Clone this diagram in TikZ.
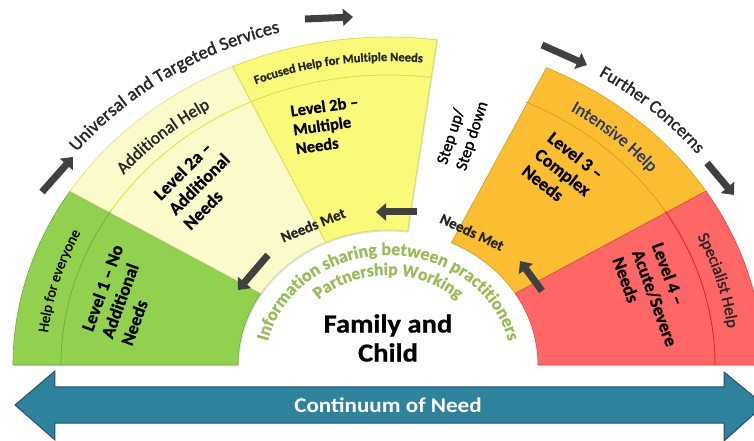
\documentclass[tikz,border=0pt]{standalone}
\usepackage{fontspec}
\setmainfont{Carlito}
\newfontfamily\heavy[FakeBold=1.4]{Carlito}
\newfontfamily\heavybold[BoldFont={Carlito Bold},FakeBold=0.8]{Carlito Bold}
\usepackage{graphicx}
\usetikzlibrary{arrows.meta,decorations.text,shadows}

\definecolor{lvgreen}{RGB}{146,208,80}
\definecolor{lvgreenD}{RGB}{110,170,55}
\definecolor{lvpale}{RGB}{250,250,202}
\definecolor{lvpaleD}{RGB}{220,220,140}
\definecolor{lvpaleL}{RGB}{225,225,30}
\definecolor{lvyellow}{RGB}{249,249,122}
\definecolor{lvyellowD}{RGB}{215,215,70}
\definecolor{lvorange}{RGB}{251,190,50}
\definecolor{lvorangeD}{RGB}{215,155,25}
\definecolor{lvred}{RGB}{255,102,102}
\definecolor{lvredD}{RGB}{225,70,70}
\definecolor{lvredL}{RGB}{235,20,20}
\definecolor{infogreen}{RGB}{155,187,89}
\definecolor{arrowdark}{RGB}{64,64,64}
\definecolor{contfill}{RGB}{46,130,155}
\definecolor{contedge}{RGB}{40,75,120}
\definecolor{navytext}{RGB}{45,55,105}
\definecolor{outertext}{RGB}{38,38,38}

\newcommand{\fanwedge}[4]{%
  \path[fill=#3, draw=#4, line width=0.6pt, wedgeshadow]
    (#1:375pt and 328pt) arc[start angle=#1, end angle=#2, x radius=375pt, y radius=328pt]
    -- (#2:150pt and 135pt) arc[start angle=#2, end angle=#1, x radius=150pt, y radius=135pt] -- cycle;}
\newcommand{\bandline}[3]{%
  \draw[#3, line width=0.7pt] (#1:327pt and 290pt) arc[start angle=#1, end angle=#2, x radius=327pt, y radius=290pt];}
\newcommand{\arctext}[7]{%
  \path[decorate, decoration={text along path, text align=#7, text={|#5|#6}}]
    (#1:#3pt and #4pt) arc[start angle=#1, end angle=#2, x radius=#3pt, y radius=#4pt];}
\newcommand{\sx}[1]{\scalebox{1.1}[1]{#1}}

\begin{document}
\begin{tikzpicture}[x=1pt, y=1pt,
  wedgeshadow/.style={drop shadow={shadow xshift=1pt, shadow yshift=-1.5pt, opacity=0.25}},
  levellabel/.style={font=\fontsize{18}{21}\selectfont\heavybold, align=left, text=black, inner sep=0pt},
  darrow/.style={draw=arrowdark, line width=7pt, line cap=butt, -{Triangle[width=17pt, length=10pt]}},
  needsmet/.style={font=\fontsize{15}{17}\selectfont\heavybold, text=black!85, inner sep=0pt},
  stepbox/.style={font=\fontsize{16.5}{20}\selectfont\heavy, align=left, inner sep=0pt},
  centretext/.style={font=\fontsize{26}{29}\selectfont\heavybold, align=center, inner sep=0pt},
  conttext/.style={font=\fontsize{21}{23}\selectfont\bfseries, text=white, inner sep=0pt},
  contarrow/.style={fill=contfill, draw=contedge, line width=1pt, line join=miter}]
\useasboundingbox (-388,-76) rectangle (366,365);
\fill[white] (-388,-76) rectangle (366,365);

% fan wedges
\fanwedge{180}{148}{lvgreen}{lvgreenD}
\fanwedge{148}{114.5}{lvpale}{lvpaleD}
\fanwedge{114.5}{82.5}{lvyellow}{lvyellowD}
\fanwedge{65}{32}{lvorange}{lvorangeD}
\fanwedge{32}{0}{lvred}{lvredD}

% band lines
\bandline{180}{148}{lvgreenD}
\bandline{148}{114.5}{lvpaleL}
\bandline{114.5}{82.5}{lvyellowD}
\bandline{65}{32}{lvorangeD}
\bandline{32}{0}{lvredL}

% band labels
\arctext{179}{149}{342}{302}{\fontsize{14.5}{16}\selectfont\heavy\color{black}}{Help for everyone}{center}
\arctext{147}{115.5}{341}{301}{\fontsize{17.5}{19}\selectfont\heavy\color{black!85}}{Additional Help}{center}
\arctext{120}{77}{344}{304}{\fontsize{12.5}{14}\selectfont\heavybold\color{black!85}}{Focused Help for Multiple Needs}{center}
\arctext{64}{33}{341}{301}{\fontsize{17.5}{19}\selectfont\heavy\color{navytext}}{Intensive Help}{center}
\arctext{31}{1}{342}{302}{\fontsize{16.5}{18}\selectfont\heavy\color{black!85}}{Specialist Help}{center}

% outer labels
\arctext{142}{80}{395}{346}{\fontsize{18.5}{20}\selectfont\heavy\color{outertext}}{Universal and Targeted Services}{left}
\arctext{57.5}{20}{392}{343}{\fontsize{18}{20}\selectfont\heavy\color{outertext}}{Further Concerns}{left}

% inner curved labels
\arctext{178}{2}{123}{110}{\fontsize{18}{20}\selectfont\heavybold\color{infogreen}}{Information sharing between practitioners}{center}
\arctext{170}{10}{101}{90}{\fontsize{17.5}{19}\selectfont\heavybold\color{infogreen}}{Partnership Working}{center}

% level labels
\node[levellabel, rotate=70] (l1) at (-266,70) {Level 1 \textendash{} No\\Additional\\Needs};
\node[levellabel, rotate=45] (l2a) at (-189,181) {Level 2a \textendash\\Additional\\Needs};
\node[levellabel, font=\fontsize{16.5}{19}\selectfont\heavybold, rotate=8] (l2b) at (-61,240) {Level 2b \textendash\\Multiple\\Needs};
\node[levellabel, rotate=-38] (l3) at (175,193) {Level 3 \textendash\\Complex\\Needs};
\node[levellabel, rotate=-70] (l4) at (267,67) {Level 4 \textendash\\Acute/Severe\\Needs};

\node[stepbox, rotate=72] (step) at (75,232) {Step up/\\Step down};

\node[needsmet, rotate=22] (nm1) at (-75,140) {Needs Met};
\node[needsmet, rotate=-25] (nm2) at (84,133) {Needs Met};

\node[centretext] (family) at (0,27) {\sx{Family and}\\\sx{Child}};

% dark arrows
\coordinate (a1s) at (-346,173); \coordinate (a1e) at (-315,208);
\coordinate (a2s) at (-83,346);  \coordinate (a2e) at (-35,348);
\coordinate (a3s) at (154,320);  \coordinate (a3e) at (199,300);
\coordinate (a4s) at (319,202);  \coordinate (a4e) at (346,170);
\coordinate (a5s) at (29,153);   \coordinate (a5e) at (-12,153);
\coordinate (a6s) at (154,74);   \coordinate (a6e) at (132,104);
\coordinate (a7s) at (-120,110); \coordinate (a7e) at (-150,75);
\draw[darrow] (a1s) -- (a1e);
\draw[darrow] (a2s) -- (a2e);
\draw[darrow] (a3s) -- (a3e);
\draw[darrow] (a4s) -- (a4e);
\draw[darrow] (a5s) -- (a5e);
\draw[darrow] (a6s) -- (a6e);
\draw[darrow] (a7s) -- (a7e);

% continuum arrow
\path[contarrow] (-373,-40) -- (-333,-6) -- (-333,-22) -- (336,-22) -- (336,-7) -- (376,-40)
  -- (336,-76) -- (336,-58) -- (-333,-58) -- (-333,-75) -- cycle;
\node[conttext] (cont) at (0,-40) {\sx{Continuum of Need}};
\end{tikzpicture}
\end{document}
